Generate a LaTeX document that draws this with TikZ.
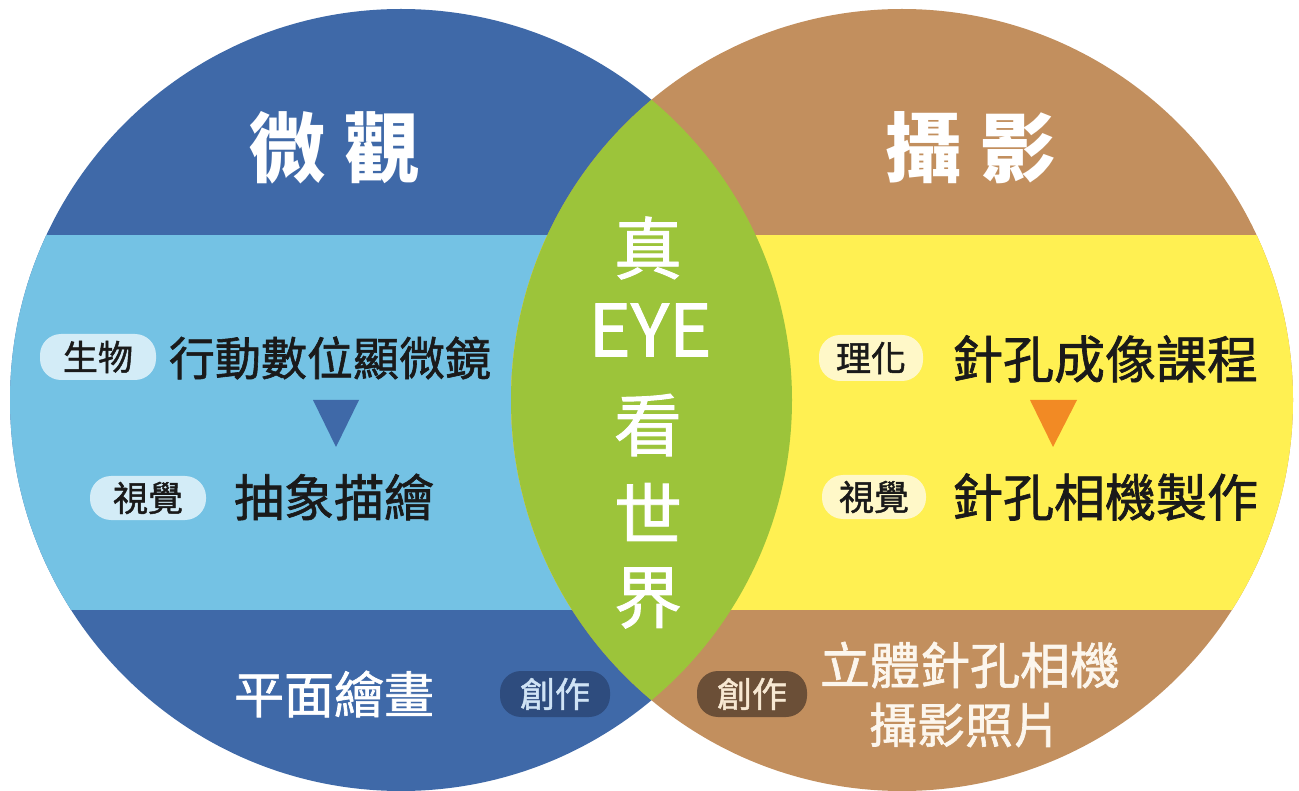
\documentclass[tikz,border=0pt]{standalone}
\usepackage{fontspec}
\newfontfamily\cjk{Noto Sans CJK TC}
\newfontfamily\cjkm[RawFeature={embolden=1.3}]{Noto Sans CJK TC}
\definecolor{dblue}{HTML}{3F69A8}
\definecolor{lblue}{HTML}{74C2E4}
\definecolor{brownc}{HTML}{C28F5E}
\definecolor{yell}{HTML}{FFF052}
\definecolor{greenc}{HTML}{9CC43A}
\definecolor{orangec}{HTML}{F28A24}
\definecolor{pblue}{HTML}{D3ECF7}
\definecolor{pcream}{HTML}{FFF8C8}
\definecolor{navy}{HTML}{2E4C7E}
\definecolor{dbrown}{HTML}{6B4F37}
\definecolor{txtdark}{HTML}{1A1A1A}
\definecolor{navytxt}{HTML}{CFE3F5}
\definecolor{browntxt}{HTML}{F7E8D2}
\tikzset{
  title/.style={text=white, inner sep=0pt, font=\cjk\bfseries\fontsize{76}{80}\selectfont},
  body/.style={text=txtdark, inner sep=0pt},
  wbody/.style={text=white, inner sep=0pt},
  lens/.style={text=white, inner sep=0pt, font=\cjkm\fontsize{68}{72}\selectfont},
  badge/.style={rounded corners=21pt, minimum width=116pt, minimum height=46pt, inner sep=0pt, font=\cjkm\fontsize{35}{38}\selectfont},
}
\begin{document}
\begin{tikzpicture}[x=1pt,y=-1pt]
\useasboundingbox (0,0) rectangle (1299,791);
\fill[white] (0,0) rectangle (1299,791);
% left circle
\begin{scope}
  \clip (401,400) circle[radius=391pt];
  \fill[dblue] (0,0) rectangle (800,791);
  \fill[lblue] (0,235) rectangle (800,610);
\end{scope}
% right circle
\begin{scope}
  \clip (902,400) circle[radius=391pt];
  \fill[brownc] (500,0) rectangle (1299,791);
  \fill[yell] (500,235) rectangle (1299,610);
\end{scope}
% lens
\begin{scope}
  \clip (401,400) circle[radius=391pt];
  \fill[greenc] (902,400) circle[radius=391pt];
\end{scope}
% titles
\node[title] (t1) at (335,148) {微\hspace{20pt}觀};
\node[title] (t2) at (971,148) {攝\hspace{20pt}影};
% left band
\node[badge, fill=pblue, text=txtdark] (b1) at (98,357) {生物};
\node[body, font=\cjkm\fontsize{46}{50}\selectfont] (l1) at (330,358) {行動數位顯微鏡};
\node[badge, fill=pblue, text=txtdark, minimum height=44pt] (b2) at (148,498) {視覺};
\node[body, font=\cjkm\fontsize{50}{54}\selectfont] (l2) at (334,497) {抽象描繪};
\fill[dblue] (313,400) -- (359,400) -- (336,447) -- cycle;
% left bottom
\node[wbody, font=\cjkm\fontsize{50}{54}\selectfont] (l3) at (334,694) {平面繪畫};
\node[badge, fill=navy, text=navytxt, minimum width=110pt] (b3) at (555,694) {創作};
% right band
\node[badge, fill=pcream, text=txtdark, minimum width=104pt] (b4) at (871,358) {理化};
\node[body, font=\cjkm\fontsize{51}{55}\selectfont] (r1) at (1105,359) {針孔成像課程};
\node[badge, fill=pcream, text=txtdark, minimum width=104pt, minimum height=44pt] (b5) at (874,497) {視覺};
\node[body, font=\cjkm\fontsize{51}{55}\selectfont] (r2) at (1105,497) {針孔相機製作};
\fill[orangec] (1030,400) -- (1077,400) -- (1053,447) -- cycle;
% right bottom
\node[badge, fill=dbrown, text=browntxt, minimum width=110pt] (b6) at (752,694) {創作};
\node[wbody, text=browntxt!40!white, font=\cjkm\fontsize{50}{54}\selectfont] (r3) at (970,665) {立體針孔相機};
\node[wbody, text=browntxt!40!white, font=\cjkm\fontsize{48}{52}\selectfont] (r4) at (965,725) {攝影照片};
% lens text
\node[lens] (c1) at (648,248) {真};
\node[lens, font=\cjkm\fontsize{72}{76}\selectfont] (c2) at (650,330) {EYE};
\node[lens] (c3) at (648,425) {看};
\node[lens] (c4) at (648,512) {世};
\node[lens] (c5) at (648,598) {界};
\end{tikzpicture}
\end{document}
